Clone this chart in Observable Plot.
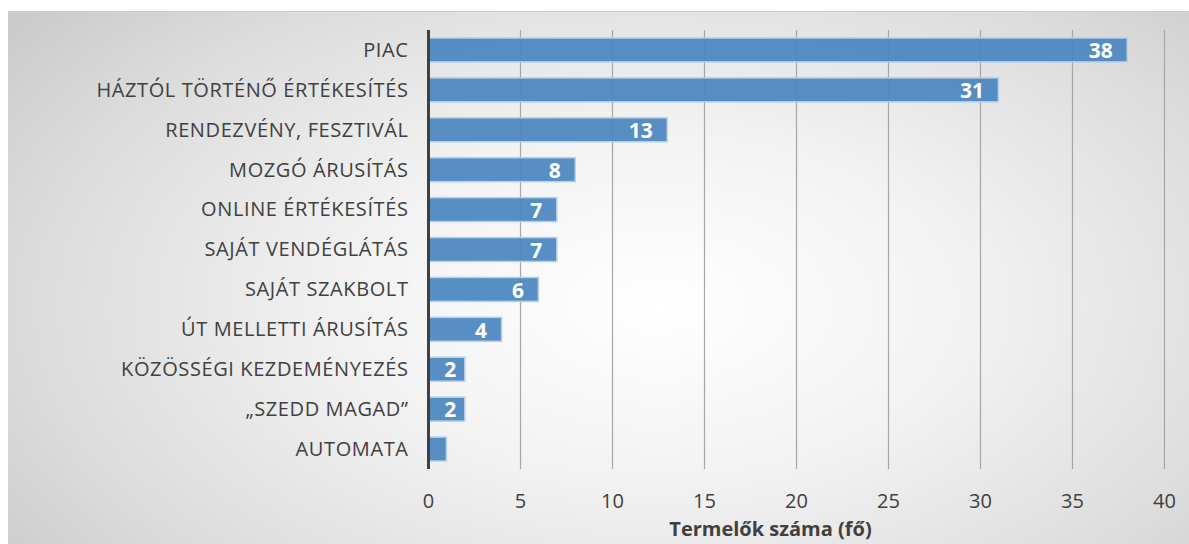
<!DOCTYPE html>
<html>
<head>
<meta charset="utf-8">
<script src="https://cdn.jsdelivr.net/npm/d3@7"></script>
<script src="https://cdn.jsdelivr.net/npm/@observablehq/plot@0.6"></script>
<style>
  html, body { margin: 0; padding: 0; background: #ffffff; }
  #wrap { position: relative; width: 1189px; height: 544px; overflow: hidden; }
  #bg { position: absolute; left: 8px; top: 11px; width: 1181px; height: 533px;
        border-top: 1.5px solid #c9c9c9;
        background: radial-gradient(ellipse 75% 95% at 55% 55%, #ffffff 0%, #f2f2f2 35%, #dcdcdc 70%, #c4c4c4 100%); }
  #chart { position: absolute; left: 0; top: 0; }
  #chart svg { background: transparent !important; }
  .ylab text { letter-spacing: 0.6px; }
</style>
</head>
<body>
<div id="wrap"><div id="bg"></div><div id="chart"></div></div>
<script>
const categories = ["PIAC", "HÁZTÓL TÖRTÉNŐ ÉRTÉKESÍTÉS", "RENDEZVÉNY, FESZTIVÁL", "MOZGÓ ÁRUSÍTÁS", "ONLINE ÉRTÉKESÍTÉS", "SAJÁT VENDÉGLÁTÁS", "SAJÁT SZAKBOLT", "ÚT MELLETTI ÁRUSÍTÁS", "KÖZÖSSÉGI KEZDEMÉNYEZÉS", "„SZEDD MAGAD”", "AUTOMATA"];
const values = [38, 31, 13, 8, 7, 7, 6, 4, 2, 2, 1];
const xTicks = [0, 5, 10, 15, 20, 25, 30, 35, 40];
const xTitle = "Termelők száma (fő)";

const data = categories.map((c, i) => ({cat: c, val: values[i]}));

const chart = Plot.plot({
  width: 1189,
  height: 544,
  marginLeft: 428,
  marginRight: 25,
  marginTop: 30,
  marginBottom: 75,
  style: {fontFamily: "'Open Sans', sans-serif", background: "transparent", color: "#404040"},
  x: {domain: [0, 40], ticks: xTicks, label: null},
  y: {domain: categories, paddingInner: 0.4, paddingOuter: 0.2, round: false, label: null},
  marks: [
    Plot.ruleX(xTicks.filter(d => d > 0), {stroke: "#a6a6a6", strokeWidth: 1.2}),
    Plot.barX(data, {y: "cat", x: "val", fill: "#4a86c0", fillOpacity: 0.93, stroke: "#b4d0ec", strokeWidth: 1.5}),
    Plot.ruleX([0], {stroke: "#404040", strokeWidth: 3}),
    Plot.text(data.filter(d => d.val >= 3), {y: "cat", x: "val", text: d => String(d.val), textAnchor: "end", dx: -15, dy: 1, fill: "white", fontWeight: "bold", fontSize: 21}),
    Plot.text(data.filter(d => d.val === 2), {y: "cat", x: "val", text: d => String(d.val), textAnchor: "end", dx: -9, dy: 1, fill: "white", fontWeight: "bold", fontSize: 21}),
    Plot.axisY({tickSize: 0, tickPadding: 20, fontSize: 20, label: null, color: "#404040", className: "ylab"}),
    Plot.axisX({ticks: xTicks, tickSize: 0, tickPadding: 24, fontSize: 20, label: null, color: "#404040"}),
    Plot.text([xTitle], {frameAnchor: "bottom", dx: -26, dy: 66, fontWeight: "bold", fontSize: 20, fill: "#404040"})
  ]
});
document.getElementById("chart").appendChild(chart);
</script>
</body>
</html>
